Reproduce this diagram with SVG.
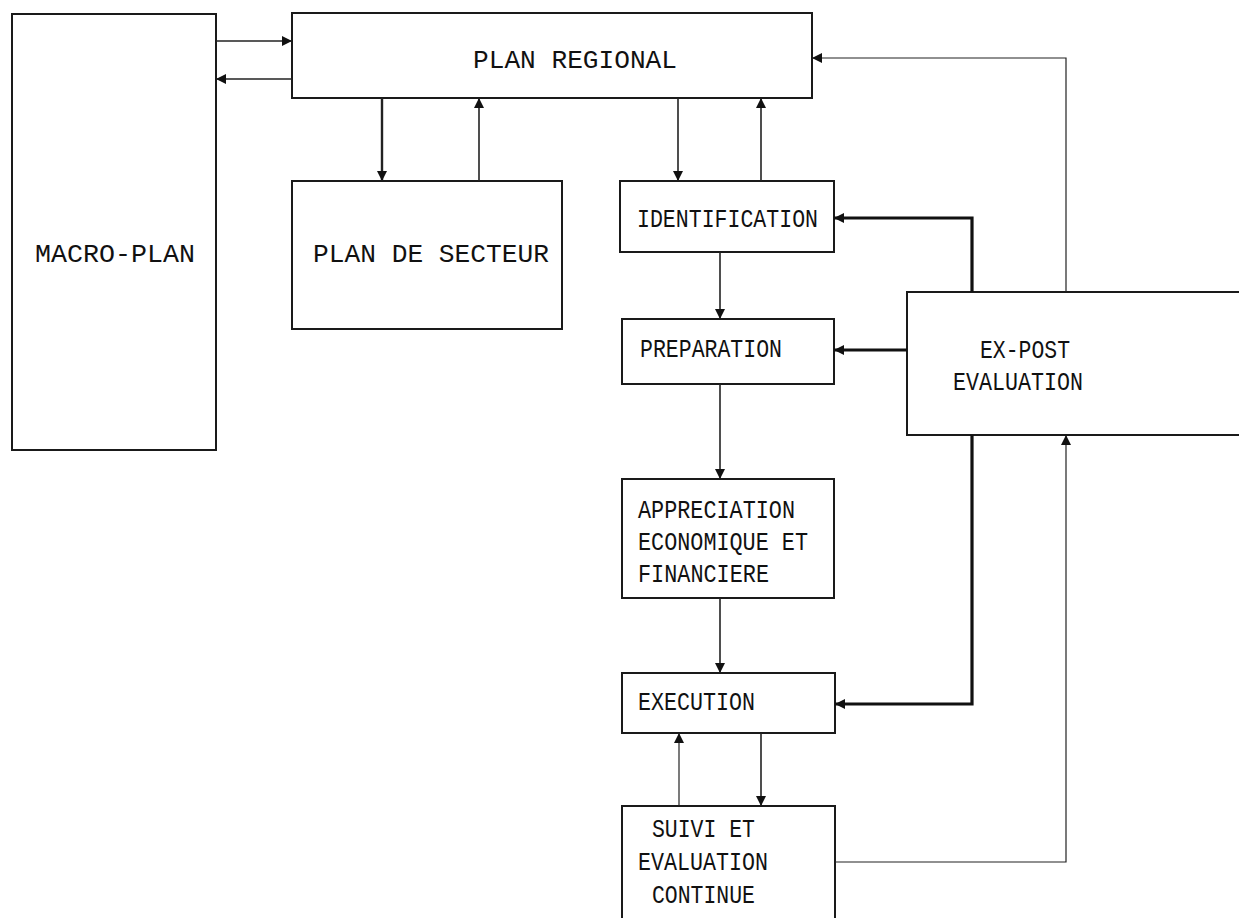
<svg xmlns="http://www.w3.org/2000/svg" width="1239" height="918" viewBox="0 0 1239 918">
<defs>
<style>
.box{fill:#fff;stroke:#1a1a1a;stroke-width:2}
.t{font-family:"Liberation Mono","DejaVu Sans Mono",monospace;font-size:25px;fill:#111}
.c{fill:none;stroke:#222;stroke-width:1.6}
.k{fill:none;stroke:#111;stroke-width:3.2}
</style>
<marker id="a" viewBox="0 0 10 10" refX="10" refY="5" markerWidth="12" markerHeight="10" markerUnits="userSpaceOnUse" orient="auto">
<path d="M0,0 L10,5 L0,10 z" fill="#111"/>
</marker>
</defs>
<g id="macro-plan"><rect class="box" x="12" y="14" width="204" height="436"/><text class="t" x="35" y="262" textLength="160" lengthAdjust="spacingAndGlyphs">MACRO-PLAN</text></g>
<g id="plan-regional"><rect class="box" x="292" y="13" width="520" height="85"/><text class="t" x="473" y="68" textLength="204" lengthAdjust="spacingAndGlyphs">PLAN REGIONAL</text></g>
<g id="plan-secteur"><rect class="box" x="292" y="181" width="270" height="148"/><text class="t" x="313" y="262" textLength="236" lengthAdjust="spacingAndGlyphs">PLAN DE SECTEUR</text></g>
<g id="identification"><rect class="box" x="620" y="181" width="214" height="71"/><text class="t" x="637" y="227" textLength="181" lengthAdjust="spacingAndGlyphs">IDENTIFICATION</text></g>
<g id="preparation"><rect class="box" x="622" y="319" width="212" height="65"/><text class="t" x="640" y="357" textLength="142" lengthAdjust="spacingAndGlyphs">PREPARATION</text></g>
<g id="ex-post"><rect class="box" x="907" y="292" width="340" height="143"/><text class="t" x="980" y="358" textLength="90" lengthAdjust="spacingAndGlyphs">EX-POST</text><text class="t" x="953" y="390" textLength="130" lengthAdjust="spacingAndGlyphs">EVALUATION</text></g>
<g id="appreciation"><rect class="box" x="622" y="479" width="212" height="119"/><text class="t" x="638" y="518" textLength="157" lengthAdjust="spacingAndGlyphs">APPRECIATION</text><text class="t" x="638" y="550" textLength="170" lengthAdjust="spacingAndGlyphs">ECONOMIQUE ET</text><text class="t" x="638" y="582" textLength="131" lengthAdjust="spacingAndGlyphs">FINANCIERE</text></g>
<g id="execution"><rect class="box" x="622" y="673" width="213" height="60"/><text class="t" x="638" y="710" textLength="117" lengthAdjust="spacingAndGlyphs">EXECUTION</text></g>
<g id="suivi"><rect class="box" x="622" y="806" width="213" height="116"/><text class="t" x="652" y="837" textLength="103" lengthAdjust="spacingAndGlyphs">SUIVI ET</text><text class="t" x="638" y="870" textLength="130" lengthAdjust="spacingAndGlyphs">EVALUATION</text><text class="t" x="652" y="903" textLength="103" lengthAdjust="spacingAndGlyphs">CONTINUE</text></g>
<g id="connectors">
<path class="c" d="M216,41 H292" marker-end="url(#a)"/>
<path class="c" d="M292,79 H216" marker-end="url(#a)"/>
<path class="c" d="M382,98 V181" marker-end="url(#a)" style="stroke-width:2.4"/>
<path class="c" d="M479,181 V98" marker-end="url(#a)"/>
<path class="c" d="M678,98 V181" marker-end="url(#a)"/>
<path class="c" d="M761,181 V98" marker-end="url(#a)"/>
<path class="c" d="M1066,292 V58 H812" marker-end="url(#a)" style="stroke-width:1.2"/>
<path class="k" d="M972,292 V218 H834" marker-end="url(#a)"/>
<path class="k" d="M907,350 H834" marker-end="url(#a)"/>
<path class="k" d="M972,435 V704 H835" marker-end="url(#a)"/>
<path class="c" d="M720,252 V319" marker-end="url(#a)"/>
<path class="c" d="M720,384 V479" marker-end="url(#a)"/>
<path class="c" d="M720,598 V673" marker-end="url(#a)"/>
<path class="c" d="M679,806 V733" marker-end="url(#a)" style="stroke-width:1.2"/>
<path class="c" d="M761,733 V806" marker-end="url(#a)"/>
<path class="c" d="M835,862 H1066 V435" marker-end="url(#a)" style="stroke-width:1.2"/>
</g>
</svg>
